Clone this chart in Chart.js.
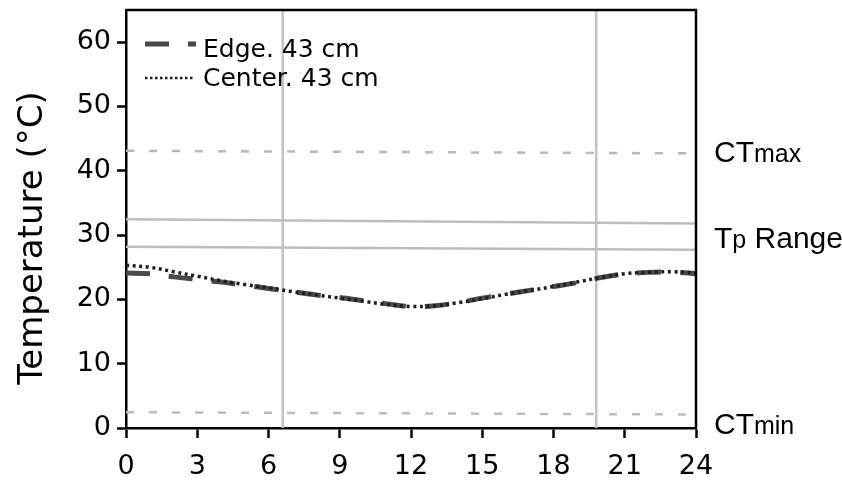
<!DOCTYPE html>
<html>
<head>
<meta charset="utf-8">
<script src="https://cdn.jsdelivr.net/npm/chart.js@4/dist/chart.umd.min.js"></script>
<style>
html,body{margin:0;padding:0;background:#fff;}
#wrap{width:842px;height:483px;position:relative;}
</style>
</head>
<body>
<div id="wrap"><canvas id="c" width="842" height="483"></canvas></div>
<script>
// ---- data ----
const hours = [0,1,2,3,4,5,6,7,8,9,10,11,12,13,14,15,16,17,18,19,20,21,22,23,24];
const edgeTemps = [24.1,24.0,23.5,23.1,22.7,22.2,21.7,21.2,20.7,20.3,19.8,19.3,18.9,19.0,19.5,20.2,20.8,21.4,22.0,22.6,23.4,23.95,24.2,24.25,24.0];
const centerTemps = [25.3,25.0,24.3,23.6,22.9,22.3,21.8,21.2,20.7,20.2,19.7,19.2,18.9,19.0,19.5,20.1,20.8,21.4,22.0,22.7,23.4,24.0,24.2,24.3,24.1];
const seriesLabels = ['Edge. 43 cm', 'Center. 43 cm'];
const xTickValues = [0,3,6,9,12,15,18,21,24];
const yTickValues = [0,10,20,30,40,50,60];
const lightChangeHours = [6.6, 19.8];
const lineEndHours = [0, 24];
const ctMaxLine = [43.1, 42.7];
const tpUpperLine = [32.45, 31.8];
const tpLowerLine = [28.2, 27.7];
const ctMinLine = [2.45, 2.1];
const rightLabels = [
  {main:'CT', sub:'max', rest:'', value:43.1},
  {main:'T', sub:'p', rest:' Range', value:29.6},
  {main:'CT', sub:'min', rest:'', value:0.8}
];
const yTitle = 'Temperature (\u00B0C)';

// ---- build ----
const FONT = '"DejaVu Sans", sans-serif';
const FONT2 = '"Liberation Sans", Arial, Helvetica, sans-serif';
Chart.defaults.font.family = FONT;
Chart.defaults.color = '#000';

const toXY = (xs, ys) => xs.map((x, i) => ({x: x, y: ys[i]}));
const refStyle = {pointRadius:0, fill:false, tension:0, order:5};

const datasets = [
  {label: seriesLabels[0], data: toXY(hours, edgeTemps), borderColor:'#4a4a4a', borderWidth:5,
   borderDash:[24,19], pointRadius:0, tension:0.35, fill:false, order:1, borderCapStyle:'butt'},
  {label: seriesLabels[1], data: toXY(hours, centerTemps), borderColor:'#1e1e1e', borderWidth:3.5,
   borderDash:[3,3.6], pointRadius:0, tension:0.35, fill:false, order:0, borderCapStyle:'butt'},
  Object.assign({label:'CTmax', data: toXY(lineEndHours, ctMaxLine), borderColor:'#b8b8b8', borderWidth:2.5, borderDash:[8,15]}, refStyle),
  Object.assign({label:'Tp upper', data: toXY(lineEndHours, tpUpperLine), borderColor:'#bdbdbd', borderWidth:2.5}, refStyle),
  Object.assign({label:'Tp lower', data: toXY(lineEndHours, tpLowerLine), borderColor:'#bdbdbd', borderWidth:2.5}, refStyle),
  Object.assign({label:'CTmin', data: toXY(lineEndHours, ctMinLine), borderColor:'#bdbdbd', borderWidth:2.5, borderDash:[8,15]}, refStyle)
];
lightChangeHours.forEach((h, i) => {
  datasets.push(Object.assign({label:'light ' + i, data:[{x:h, y:0},{x:h, y:65}], borderColor:'#c4c4c4', borderWidth:2.5}, refStyle));
});

const framePlugin = {
  id: 'frame',
  afterDraw(chart) {
    const {ctx, chartArea: a, scales} = chart;
    ctx.save();
    ctx.strokeStyle = '#000';
    ctx.lineWidth = 2.5;
    ctx.beginPath();
    ctx.moveTo(a.left, a.top);
    ctx.lineTo(a.right, a.top);
    ctx.lineTo(a.right, a.bottom);
    ctx.stroke();

    // legend
    const ds = chart.data.datasets;
    ctx.font = '25px ' + FONT;
    ctx.fillStyle = '#000';
    ctx.textBaseline = 'middle';
    ctx.textAlign = 'left';
    ctx.strokeStyle = ds[0].borderColor;
    ctx.lineWidth = 5;
    ctx.setLineDash(ds[0].borderDash);
    ctx.beginPath(); ctx.moveTo(145, 44); ctx.lineTo(196, 44); ctx.stroke();
    ctx.fillText(ds[0].label, 203, 50);
    ctx.strokeStyle = ds[1].borderColor;
    ctx.lineWidth = 2.5;
    ctx.setLineDash([2.5, 2.5]);
    ctx.beginPath(); ctx.moveTo(145, 78); ctx.lineTo(194, 78); ctx.stroke();
    ctx.setLineDash([]);
    ctx.fillText(ds[1].label, 203, 79);

    // y title
    ctx.save();
    ctx.font = '34px ' + FONT;
    ctx.textAlign = 'center';
    ctx.textBaseline = 'alphabetic';
    ctx.translate(42, 238);
    ctx.rotate(-Math.PI / 2);
    ctx.fillText(yTitle, 0, 0);
    ctx.restore();

    // right labels
    const y = scales.y;
    ctx.textBaseline = 'alphabetic';
    rightLabels.forEach(l => {
      const big = 30, small = 25;
      const base = y.getPixelForValue(l.value) + big * 0.716 / 2;
      let x = 714;
      ctx.font = big + 'px ' + FONT2;
      ctx.fillText(l.main, x, base); x += ctx.measureText(l.main).width;
      ctx.font = small + 'px ' + FONT2;
      ctx.fillText(l.sub, x, base); x += ctx.measureText(l.sub).width;
      if (l.rest) { ctx.font = big + 'px ' + FONT2; ctx.fillText(l.rest, x, base); }
    });
    ctx.restore();
  }
};

new Chart(document.getElementById('c'), {
  type: 'line',
  data: {datasets: datasets},
  options: {
    responsive: false,
    animation: false,
    devicePixelRatio: 1,
    layout: {padding: {top: 10, right: 146, left: 0, bottom: 0}},
    plugins: {legend: {display: false}, tooltip: {enabled: false}},
    scales: {
      x: {
        type: 'linear', position: 'bottom', min: 0, max: 24,
        afterBuildTicks: s => { s.ticks = xTickValues.map(v => ({value: v})); },
        afterFit: s => { s.height = 55; },
        ticks: {font: {size: 27}, color: '#000', padding: 13, maxRotation: 0, autoSkip: false},
        grid: {display: true, drawOnChartArea: false, drawTicks: true, tickLength: 10, tickColor: '#000', tickWidth: 2.5},
        border: {display: true, color: '#000', width: 2.5}
      },
      y: {
        type: 'linear', min: 0, max: 65,
        afterBuildTicks: s => { s.ticks = yTickValues.map(v => ({value: v})); },
        afterFit: s => { s.width = 126; s.paddingTop = 0; s.paddingBottom = 0; },
        ticks: {font: {size: 27}, color: '#000', padding: 6, autoSkip: false},
        grid: {display: true, drawOnChartArea: false, drawTicks: true, tickLength: 9, tickColor: '#000', tickWidth: 2.5},
        border: {display: true, color: '#000', width: 2.5}
      }
    }
  },
  plugins: [framePlugin]
});
</script>
</body>
</html>
